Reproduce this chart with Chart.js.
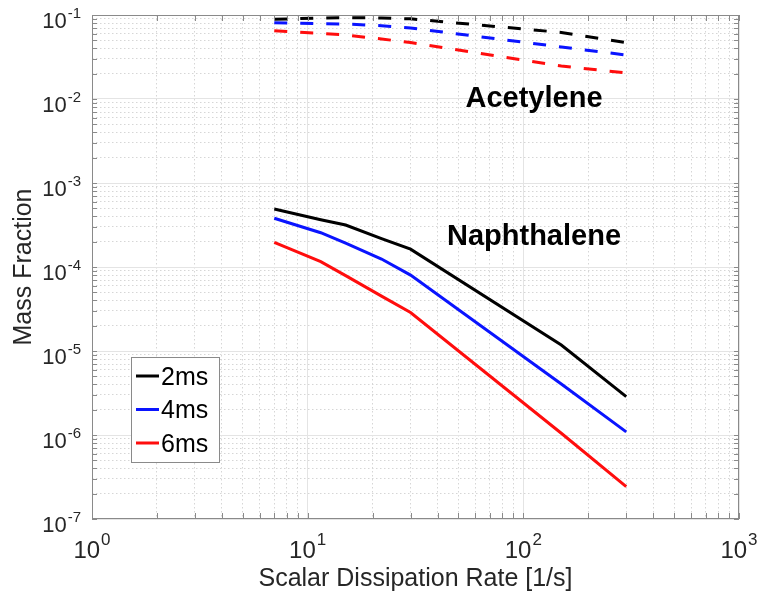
<!DOCTYPE html>
<html lang="en">
<head>
    <meta charset="UTF-8">
    <title>Mass Fraction vs Scalar Dissipation Rate</title>
    <script src="https://cdn.jsdelivr.net/npm/chart.js"></script>
    <style>
        body {
            margin: 0;
            background: #ffffff;
        }
        #chart {
            display: block;
        }
    </style>
</head>
<body>
    <canvas id="chart" width="761" height="596"></canvas>

    <script>
        // scalar dissipation rate [1/s]
        const rates = [7, 11.5, 15, 22, 30, 150, 300];

        // naphthalene (solid)
        const naph2ms = [4.9e-4, 3.66e-4, 3.16e-4, 2.18e-4, 1.63e-4, 1.18e-5, 2.86e-6];
        const naph4ms = [3.8e-4, 2.56e-4, 1.92e-4, 1.245e-4, 8.0e-5, 4.05e-6, 1.09e-6];
        const naph6ms = [1.97e-4, 1.16e-4, 7.9e-5, 4.5e-5, 2.87e-5, 1.05e-6, 2.43e-7];

        // acetylene (dashed)
        const acet2ms = [0.089, 0.092, 0.093, 0.092, 0.090, 0.062, 0.047];
        const acet4ms = [0.081, 0.079, 0.078, 0.0746, 0.070, 0.0416, 0.0334];
        const acet6ms = [0.065, 0.0604, 0.0578, 0.0518, 0.047, 0.0247, 0.0204];

        const seriesLabels = ['2ms', '4ms', '6ms'];
        const seriesColors = ['#000000', '#0a14ff', '#ff0d0d'];

        const FONT = '"Liberation Sans", Arial, Helvetica, sans-serif';

        const pts = (ys) => rates.map((x, i) => ({ x: x, y: ys[i] }));

        const solid = (ys, i) => ({
            label: seriesLabels[i],
            data: pts(ys),
            borderColor: seriesColors[i],
            borderWidth: 3,
            pointRadius: 0,
            fill: false,
            tension: 0
        });
        const dashed = (ys, i) => ({
            label: 'Acetylene ' + seriesLabels[i],
            data: pts(ys),
            borderColor: seriesColors[i],
            borderWidth: 3,
            borderDash: [13, 13],
            borderCapStyle: 'butt',
            pointRadius: 0,
            fill: false,
            tension: 0
        });

        // ticks 1..9 x 10^n for each decade
        function decadeTicks(scale) {
            const ticks = [];
            const lo = Math.round(Math.log10(scale.min));
            const hi = Math.round(Math.log10(scale.max));
            for (let e = lo; e <= hi; e++) {
                for (let m = 1; m <= 9; m++) {
                    if (e === hi && m > 1) break;
                    ticks.push({ value: m * Math.pow(10, e), major: m === 1 });
                }
            }
            scale.ticks = ticks;
        }

        const gridColor = (ctx) => (ctx.tick && ctx.tick.major) ? '#e4e4e4' : '#d6d6d6';
        const gridDash = (ctx) => (ctx.tick && ctx.tick.major) ? [] : [1.5, 2.5];

        const axisOpts = (min, max) => ({
            type: 'logarithmic',
            min: min,
            max: max,
            afterBuildTicks: decadeTicks,
            ticks: { display: false },
            grid: { color: gridColor, lineWidth: 1, drawTicks: false },
            border: { display: false, dash: gridDash }
        });

        function drawPow(ctx, exp, x, y, align, big, small, rise) {
            ctx.font = big + 'px ' + FONT;
            const wb = ctx.measureText('10').width;
            ctx.font = small + 'px ' + FONT;
            const we = ctx.measureText(exp).width + 1;
            let sx = align === 'right' ? x - wb - we : x - (wb + we) / 2;
            ctx.textAlign = 'left';
            ctx.textBaseline = 'alphabetic';
            ctx.font = big + 'px ' + FONT;
            ctx.fillText('10', sx, y);
            ctx.font = small + 'px ' + FONT;
            ctx.fillText(exp, sx + wb + 1, y - rise);
        }

        const matlabAxes = {
            id: 'matlabAxes',
            afterDraw(chart) {
                const ctx = chart.ctx;
                const a = chart.chartArea;
                const xs = chart.scales.x;
                const ys = chart.scales.y;
                ctx.save();

                // box
                ctx.strokeStyle = '#8a8a8a';
                ctx.lineWidth = 1;
                ctx.strokeRect(a.left + 0.5, a.top + 0.5, a.right - a.left - 1, a.bottom - a.top - 1);

                // inward tick marks
                ctx.beginPath();
                xs.ticks.forEach(t => {
                    const px = Math.round(xs.getPixelForValue(t.value)) + 0.5;
                    ctx.moveTo(px, a.bottom); ctx.lineTo(px, a.bottom - 6);
                    ctx.moveTo(px, a.top); ctx.lineTo(px, a.top + 6);
                });
                ys.ticks.forEach(t => {
                    const py = Math.round(ys.getPixelForValue(t.value)) + 0.5;
                    ctx.moveTo(a.left, py); ctx.lineTo(a.left + 5, py);
                    ctx.moveTo(a.right, py); ctx.lineTo(a.right - 5, py);
                });
                ctx.stroke();

                // tick labels
                ctx.fillStyle = '#262626';
                ys.ticks.filter(t => t.major).forEach(t => {
                    const py = ys.getPixelForValue(t.value);
                    drawPow(ctx, String(Math.round(Math.log10(t.value))), a.left - 11, py + 13, 'right', 22, 15, 10);
                });
                xs.ticks.filter(t => t.major).forEach(t => {
                    const px = xs.getPixelForValue(t.value);
                    drawPow(ctx, String(Math.round(Math.log10(t.value))), px, a.bottom + 39, 'center', 24, 17, 13);
                });

                // axis titles
                ctx.font = '25px ' + FONT;
                ctx.textAlign = 'center';
                ctx.textBaseline = 'alphabetic';
                ctx.fillText('Scalar Dissipation Rate [1/s]', (a.left + a.right) / 2, a.bottom + 67);
                ctx.save();
                ctx.translate(31, (a.top + a.bottom) / 2);
                ctx.rotate(-Math.PI / 2);
                ctx.fillText('Mass Fraction', 0, 0);
                ctx.restore();

                // annotations
                ctx.fillStyle = '#000000';
                ctx.font = 'bold 29px ' + FONT;
                ctx.fillText('Acetylene', 534, 107);
                ctx.fillText('Naphthalene', 534, 245);

                // legend
                const lx = 131.5, ly = 357.5, lw = 88, lh = 105;
                ctx.fillStyle = '#ffffff';
                ctx.fillRect(lx, ly, lw, lh);
                ctx.strokeStyle = '#8a8a8a';
                ctx.lineWidth = 1;
                ctx.strokeRect(lx, ly, lw, lh);
                ctx.font = '25px ' + FONT;
                ctx.textAlign = 'left';
                ctx.textBaseline = 'middle';
                chart.data.datasets.slice(0, 3).forEach((ds, i) => {
                    const ry = 377 + i * 33.5;
                    ctx.strokeStyle = ds.borderColor;
                    ctx.lineWidth = 3;
                    ctx.beginPath();
                    ctx.moveTo(136, ry - 1);
                    ctx.lineTo(159, ry - 1);
                    ctx.stroke();
                    ctx.fillStyle = '#000000';
                    ctx.fillText(ds.label, 161, ry + 1);
                });

                ctx.restore();
            }
        };

        const chart = new Chart(document.getElementById('chart'), {
            type: 'line',
            data: {
                datasets: [
                    solid(naph2ms, 0),
                    solid(naph4ms, 1),
                    solid(naph6ms, 2),
                    dashed(acet2ms, 0),
                    dashed(acet4ms, 1),
                    dashed(acet6ms, 2)
                ]
            },
            options: {
                responsive: false,
                animation: false,
                devicePixelRatio: 1,
                layout: {
                    padding: { left: 92, right: 22, top: 15, bottom: 77 }
                },
                scales: {
                    x: axisOpts(1, 1000),
                    y: axisOpts(1e-7, 1e-1)
                },
                plugins: {
                    legend: { display: false },
                    tooltip: { enabled: false }
                }
            },
            plugins: [matlabAxes]
        });
    </script>
</body>
</html>
